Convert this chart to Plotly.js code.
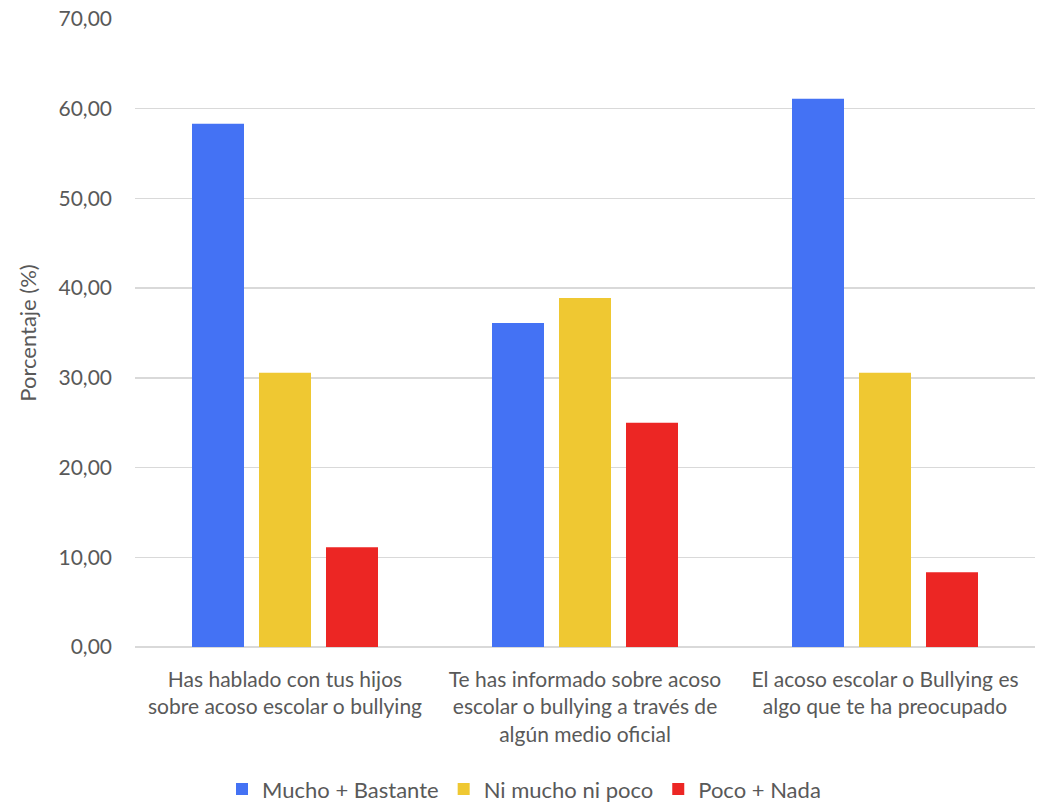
<!DOCTYPE html>
<html>
<head>
<meta charset="utf-8">
<script src="https://cdn.plot.ly/plotly-3.0.1.min.js"></script>
<style>body{margin:0;padding:0;background:#fff;} #chart{width:1048px;height:802px;}</style>
</head>
<body>
<div id="chart"></div>
<script>
const categories = [
  "Has hablado con tus hijos<br>sobre acoso escolar o bullying",
  "Te has informado sobre acoso<br>escolar o bullying a través de<br>algún medio oficial",
  "El acoso escolar o Bullying es<br>algo que te ha preocupado"
];
const seriesNames = ["Mucho + Bastante", "Ni mucho ni poco", "Poco + Nada"];
const muchoBastante = [58.33, 36.11, 61.11];
const niMuchoNiPoco = [30.56, 38.89, 30.56];
const pocoNada = [11.11, 25.00, 8.33];
const colors = ["#4472F4", "#EFC832", "#EC2624"];
const yTicks = [0, 10, 20, 30, 40, 50, 60, 70];

const font = "Lato, 'Open Sans', sans-serif";
const fs = 21;
const allSeries = [muchoBastante, niMuchoNiPoco, pocoNada];
const data = allSeries.map((vals, i) => ({
  type: "bar",
  name: seriesNames[i],
  x: categories,
  y: vals,
  marker: {color: colors[i]},
  hoverinfo: "skip"
}));

const layout = {
  width: 1048,
  height: 802,
  margin: {l: 135, r: 13, t: 19, b: 155},
  paper_bgcolor: "#fff",
  plot_bgcolor: "#fff",
  separators: ",.",
  barmode: "group",
  bargap: 0.33,
  bargroupgap: 0.224,
  font: {family: font, size: fs, color: "#595959"},
  xaxis: {
    type: "category",
    automargin: false,
    tickfont: {family: font, size: fs, color: "#595959"},
    showline: false,
    ticks: "",
    ticklabelstandoff: 18,
    showgrid: false
  },
  yaxis: {
    range: [0, 70],
    automargin: false,
    tickvals: yTicks,
    tickformat: ".2f",
    showgrid: true,
    gridcolor: "#D9D9D9",
    gridwidth: 1.5,
    zeroline: true,
    zerolinecolor: "#D9D9D9",
    zerolinewidth: 1.5,
    ticks: "",
    ticklabelstandoff: 22,
    tickfont: {family: font, size: fs, color: "#595959"},
    title: {text: "Porcentaje (%)", font: {family: font, size: 22, color: "#595959"}, standoff: 15}
  },
  showlegend: true,
  legend: {
    orientation: "h",
    x: 0.5, xanchor: "center", xref: "container",
    y: 0.016, yanchor: "middle", yref: "container",
    font: {family: font, size: 22, color: "#595959"},
    itemwidth: 30,
    traceorder: "normal"
  }
};

Plotly.newPlot("chart", data, layout, {displayModeBar: false, staticPlot: true});
</script>
</body>
</html>
